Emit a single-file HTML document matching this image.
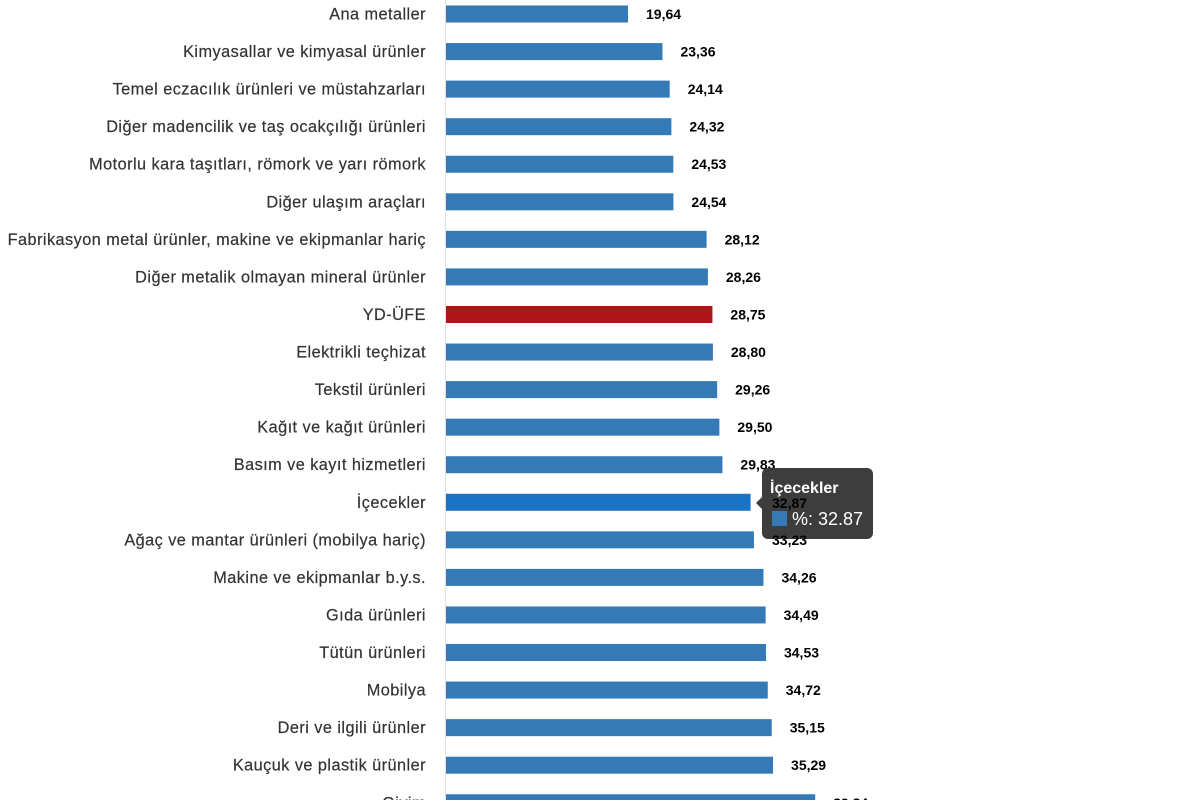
<!DOCTYPE html>
<html><head><meta charset="utf-8"><style>
body{margin:0;width:1200px;height:800px;overflow:hidden;background:#fff;font-family:"Liberation Sans",sans-serif;}
</style></head><body>
<svg width="1200" height="800" xmlns="http://www.w3.org/2000/svg" font-family="Liberation Sans, sans-serif">
<line x1="445.5" y1="0" x2="445.5" y2="800" stroke="#e0e0e0" stroke-width="1"/>
<g id="rows"></g>
<g>
<path d="M768,468 h99 a6,6 0 0 1 6,6 v59 a6,6 0 0 1 -6,6 h-99 a6,6 0 0 1 -6,-6 v-24 l-6,-6 l6,-6 v-23 a6,6 0 0 1 6,-6z" fill="#333" fill-opacity="0.95"/>
<text x="770" y="493" fill="#fff" font-size="16" font-weight="bold">İçecekler</text>
<rect x="772" y="511" width="15" height="15" fill="#337ab7"/>
<text x="792" y="525" fill="#fff" font-size="18">%: 32.87</text>
<text x="772" y="508" fill="#000" font-size="14" font-weight="bold">32,87</text>
<text x="772" y="545" fill="#000" font-size="14" font-weight="bold">33,23</text>
</g>
</svg>
<script>
const d=[["Ana metaller",19.64],["Kimyasallar ve kimyasal ürünler",23.36],["Temel eczacılık ürünleri ve müstahzarları",24.14],["Diğer madencilik ve taş ocakçılığı ürünleri",24.32],["Motorlu kara taşıtları, römork ve yarı römork",24.53],["Diğer ulaşım araçları",24.54],["Fabrikasyon metal ürünler, makine ve ekipmanlar hariç",28.12],["Diğer metalik olmayan mineral ürünler",28.26],["YD-ÜFE",28.75],["Elektrikli teçhizat",28.80],["Tekstil ürünleri",29.26],["Kağıt ve kağıt ürünleri",29.50],["Basım ve kayıt hizmetleri",29.83],["İçecekler",32.87],["Ağaç ve mantar ürünleri (mobilya hariç)",33.23],["Makine ve ekipmanlar b.y.s.",34.26],["Gıda ürünleri",34.49],["Tütün ürünleri",34.53],["Mobilya",34.72],["Deri ve ilgili ürünler",35.15],["Kauçuk ve plastik ürünler",35.29],["Giyim",39.84]];
let s="";
d.forEach((r,i)=>{const c=14+i*37.56,w=r[1]*9.267;
let col=i==8?"#ad1519":(i==13?"#1a73c4":"#337ab7");
s+=`<text x="426" y="${c+5.5}" text-anchor="end" font-size="16.3" letter-spacing="0.45" fill="#333" stroke="#333" stroke-width="0.2">${r[0]}</text>`;
s+=`<rect x="446" y="${c-8.5}" width="${w}" height="17" fill="${col}"/>`;
if(i!=13&&i!=14)s+=`<text x="${446+w+18}" y="${c+5}" font-size="14" font-weight="bold" fill="#000">${r[1].toFixed(2).replace('.',',')}</text>`;});
document.getElementById("rows").innerHTML=s;
</script>
</body></html>
